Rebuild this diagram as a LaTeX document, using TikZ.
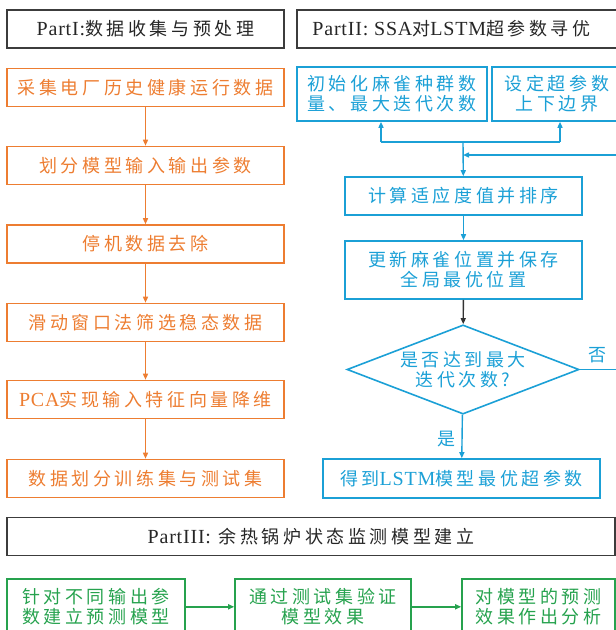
\documentclass[tikz,border=0pt]{standalone}
\usepackage{fontspec}
\setmainfont{Liberation Serif}
\newfontfamily\cjk[LetterSpace=20]{Noto Sans CJK SC}
\newfontfamily\lat[LetterSpace=4]{Liberation Serif}
\usetikzlibrary{shapes.geometric, arrows.meta}

\definecolor{partorange}{RGB}{237,125,49}
\definecolor{partblue}{RGB}{27,160,214}
\definecolor{partgreen}{RGB}{38,162,78}
\definecolor{partgray}{RGB}{60,60,60}
\newcommand{\en}[1]{{\lat\fontsize{20}{20}\selectfont #1}}

\begin{document}
\begin{tikzpicture}[x=1pt, y=-1pt,
    every node/.style={font=\cjk\fontsize{18}{20}\selectfont, align=center, inner sep=0pt},
    header/.style={draw=partgray, line width=1.5pt, text=black!85, minimum height=38pt},
    obox/.style={draw=partorange, line width=1.6pt, text=partorange, minimum width=277pt, minimum height=38pt},
    bbox/.style={draw=partblue, line width=1.6pt, text=partblue},
    gbox/.style={draw=partgreen, line width=1.6pt, text=partgreen, anchor=north, minimum height=56pt},
    oarrow/.style={draw=partorange, line width=1.4pt, -{Triangle[length=6pt,width=5pt]}},
    barrow/.style={draw=partblue, line width=1.4pt, -{Triangle[length=6pt,width=5pt]}},
    garrow/.style={draw=partgreen, line width=1.4pt, -{Triangle[length=6pt,width=5pt]}}]

    \useasboundingbox (0,0) rectangle (616,630);
    \clip (0,0) rectangle (616,630);

    % Headers
    \node [header, minimum width=277pt] (partI) at (145.5,29) {\en{PartI:}数据收集与预处理};
    \node [header, minimum width=325pt] (partII) at (459.5,29) {\en{PartII: SSA}对\en{LSTM}超参数寻优\hspace*{16pt}};
    \node [header, minimum width=608pt] (partIII) at (311,536.5) {\en{PartIII:} 余热锅炉状态监测模型建立};

    % Part I
    \node [obox] (collect) at (145.5,87.5) {采集电厂历史健康运行数据};
    \node [obox] (split) at (145.5,165.5) {划分模型输入输出参数};
    \node [obox] (remove) at (145.5,244) {停机数据去除};
    \node [obox] (window) at (145.5,322.5) {滑动窗口法筛选稳态数据};
    \node [obox] (pca) at (145.5,399.5) {\en{PCA}实现输入特征向量降维};
    \node [obox] (divide) at (145.5,478.5) {数据划分训练集与测试集};

    \draw [oarrow] (collect) -- (split);
    \draw [oarrow] (split) -- (remove);
    \draw [oarrow] (remove) -- (window);
    \draw [oarrow] (window) -- (pca);
    \draw [oarrow] (pca) -- (divide);

    % Part II
    \node [bbox, minimum width=190pt, minimum height=54pt] (init) at (392,94) {初始化麻雀种群数\\量、最大迭代次数};
    \node [bbox, minimum width=130pt, minimum height=54pt] (bounds) at (557,94) {设定超参数\\上下边界};
    \node [bbox, minimum width=237pt, minimum height=38pt] (fitness) at (463.5,196) {计算适应度值并排序};
    \node [bbox, minimum width=237pt, minimum height=58pt] (update) at (463.5,270) {更新麻雀位置并保存\\全局最优位置};
    \node [bbox, diamond, aspect=2.6, inner sep=1.5pt] (decide) at (463,369.5) {是否达到最大\\迭代次数?};
    \node [bbox, minimum width=277pt, minimum height=39pt] (result) at (461.5,478.5) {得到\en{LSTM}模型最优超参数};

    \coordinate (initfoot) at (381,142);
    \coordinate (boundsfoot) at (560,142);
    \coordinate (fork) at (463,142);
    \coordinate (merge) at (463,155);
    \coordinate (loopturn) at (640,369.5);

    \draw [draw=partblue, line width=1.4pt] (initfoot) -- (boundsfoot);
    \draw [barrow] (initfoot) -- (initfoot |- init.south);
    \draw [barrow] (boundsfoot) -- (boundsfoot |- bounds.south);
    \draw [barrow] (fork) -- (fitness);
    \draw [barrow] (fitness) -- (update);
    \draw [line width=1.4pt, black!80, -{Triangle[length=6pt,width=5pt]}] (update) -- (decide);
    \draw [barrow] (decide) -- node [left=6pt, pos=0.55, text=partblue] {是} (result);
    \draw [barrow] (decide.east) -- (loopturn) |- (merge);
    \node [text=partblue] (no) at (597,355) {否};

    % Part III
    \node [gbox, minimum width=178pt] (build) at (96,578) {针对不同输出参\\数建立预测模型};
    \node [gbox, minimum width=176pt] (verify) at (323,578) {通过测试集验证\\模型效果};
    \node [gbox, minimum width=153pt] (analyse) at (538.5,578) {对模型的预测\\效果作出分析};

    \draw [garrow] (build) -- (verify);
    \draw [garrow] (verify) -- (analyse);

\end{tikzpicture}
\end{document}
